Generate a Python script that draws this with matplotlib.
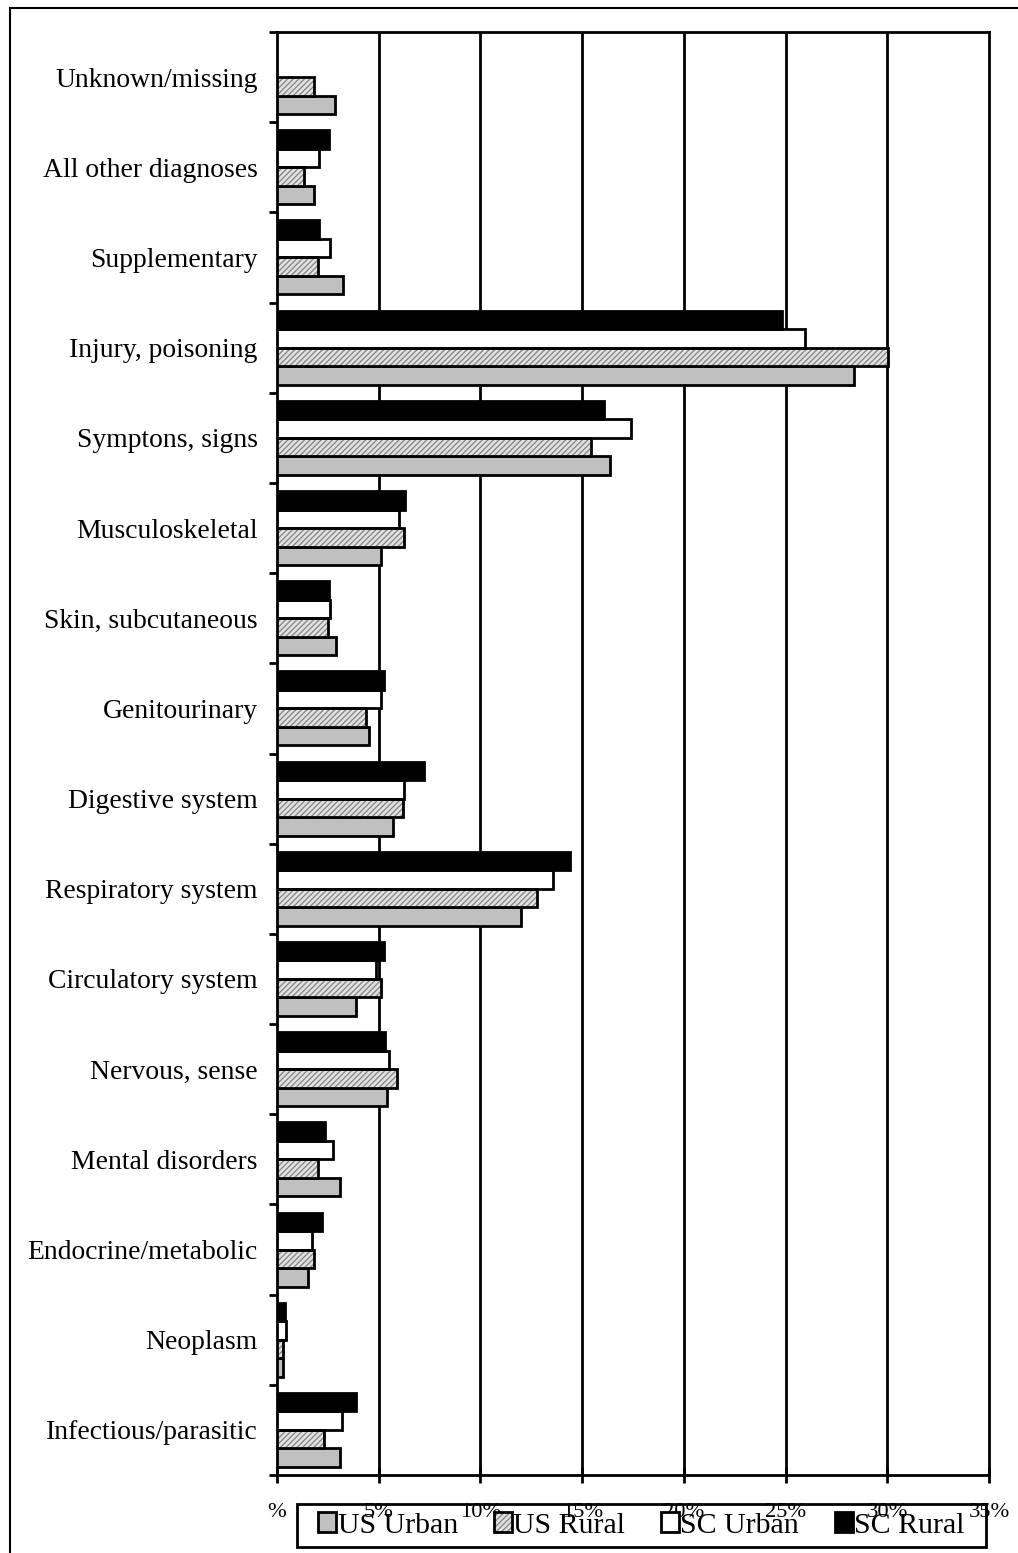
import matplotlib
matplotlib.use("Agg")
import matplotlib.pyplot as plt
from matplotlib.patches import Patch, Rectangle
from matplotlib.lines import Line2D
import numpy as np

categories = ["Infectious/parasitic", "Neoplasm", "Endocrine/metabolic", "Mental disorders",
              "Nervous, sense", "Circulatory system", "Respiratory system", "Digestive system",
              "Genitourinary", "Skin, subcutaneous", "Musculoskeletal", "Symptons, signs",
              "Injury, poisoning", "Supplementary", "All other diagnoses", "Unknown/missing"]
us_urban = [3.10, 0.31, 1.52, 3.11, 5.41, 3.90, 12.00, 5.70, 4.52, 2.92, 5.10, 16.37, 28.34, 3.22, 1.82, 2.85]
us_rural = [2.31, 0.30, 1.82, 2.00, 5.92, 5.10, 12.80, 6.20, 4.39, 2.49, 6.23, 15.43, 30.05, 2.03, 1.32, 1.82]
sc_urban = [3.21, 0.43, 1.72, 2.77, 5.52, 4.89, 13.57, 6.25, 5.13, 2.62, 6.00, 17.41, 25.94, 2.62, 2.08, 0.0]
sc_rural = [3.87, 0.41, 2.20, 2.36, 5.33, 5.25, 14.38, 7.25, 5.25, 2.54, 6.30, 16.05, 24.82, 2.06, 2.56, 0.0]
series_names = ["US Urban", "US Rural", "SC Urban", "SC Rural"]
xticks = [0, 5, 10, 15, 20, 25, 30, 35]
xticklabels = ["%", "5%", "10%", "15%", "20%", "25%", "30%", "35%"]

plt.rcParams['font.family'] = ['Liberation Serif', 'DejaVu Serif']
FS_Y = 19.9
FS_X = 16.2
FS_LEG = 21.5

W, H = 1018, 1553
fig = plt.figure(figsize=(W / 100, H / 100), dpi=100)
ax = fig.add_axes([277 / W, 1 - 1475 / H, (989 - 277) / W, (1475 - 32) / H])

y = np.arange(len(categories))
bh = 0.205
LW = 2.0

ax.barh(y - 1.5 * bh, us_urban, height=bh, color="#c0c0c0", edgecolor="black", linewidth=LW, zorder=3)
ax.barh(y - 0.5 * bh, us_rural, height=bh, color="#e2e2e2", edgecolor="#8a8a8a", hatch="//////", linewidth=0, zorder=3)
ax.barh(y - 0.5 * bh, us_rural, height=bh, color="none", edgecolor="black", linewidth=LW, zorder=4)
sc_u = np.array(sc_urban)
sc_r = np.array(sc_rural)
mu = sc_u > 0
mr = sc_r > 0
ax.barh(y[mu] + 0.5 * bh, sc_u[mu], height=bh, color="white", edgecolor="black", linewidth=LW, zorder=3)
ax.barh(y[mr] + 1.5 * bh, sc_r[mr], height=bh, color="black", edgecolor="black", linewidth=LW, zorder=3)

ax.set_xlim(0, 35)
ax.set_ylim(-0.5, len(categories) - 0.5)

for xv in xticks[1:-1]:
    ax.axvline(xv, color="black", linewidth=2.0, zorder=1)

ax.set_xticks(xticks)
ax.set_xticklabels(xticklabels, fontsize=FS_X)
ax.tick_params(axis="x", direction="inout", length=11, width=2, pad=15)

ax.set_yticks(np.arange(-0.5, len(categories), 1.0))
ax.set_yticklabels([])
ax.set_yticks(y, minor=True)
ax.set_yticklabels(categories, minor=True, fontsize=FS_Y)
ax.tick_params(axis="y", which="major", direction="out", length=6, width=2)
ax.tick_params(axis="y", which="minor", length=0, pad=14)

for s in ax.spines.values():
    s.set_linewidth(2.0)
    s.set_color("black")

# legend (transparent, frame drawn separately)
h_us_u = Patch(facecolor="#c0c0c0", edgecolor="black", linewidth=LW)
h_us_r = (Patch(facecolor="#e2e2e2", edgecolor="#8a8a8a", hatch="//////", linewidth=0),
          Patch(facecolor="none", edgecolor="black", linewidth=LW))
h_sc_u = Patch(facecolor="white", edgecolor="black", linewidth=LW)
h_sc_r = Patch(facecolor="black", edgecolor="black", linewidth=LW)
bx0, bx1, by0, by1 = 297, 986, 1504, 1547
leg = fig.legend([h_us_u, h_us_r, h_sc_u, h_sc_r], series_names, ncol=4,
                 loc="center", bbox_to_anchor=((bx0 + bx1) / 2 / W, 1 - (by0 + by1) / 2 / H),
                 borderaxespad=0, fontsize=FS_LEG, frameon=False,
                 handlelength=0.6, handleheight=0.64, handletextpad=0.05,
                 columnspacing=1.2, borderpad=0.0)
fig.add_artist(Rectangle((bx0 / W, 1 - by1 / H), (bx1 - bx0) / W, (by1 - by0) / H,
                         transform=fig.transFigure, facecolor="none", edgecolor="black",
                         linewidth=2.0, zorder=6))

# outer border (clipped at figure edge)
fig.add_artist(Line2D([10 / W, 10 / W], [0, 1 - 8 / H], transform=fig.transFigure, color="black", linewidth=1.5))
fig.add_artist(Line2D([10 / W, 1], [1 - 8 / H, 1 - 8 / H], transform=fig.transFigure, color="black", linewidth=1.5))

fig.savefig("out.png", dpi=100)
